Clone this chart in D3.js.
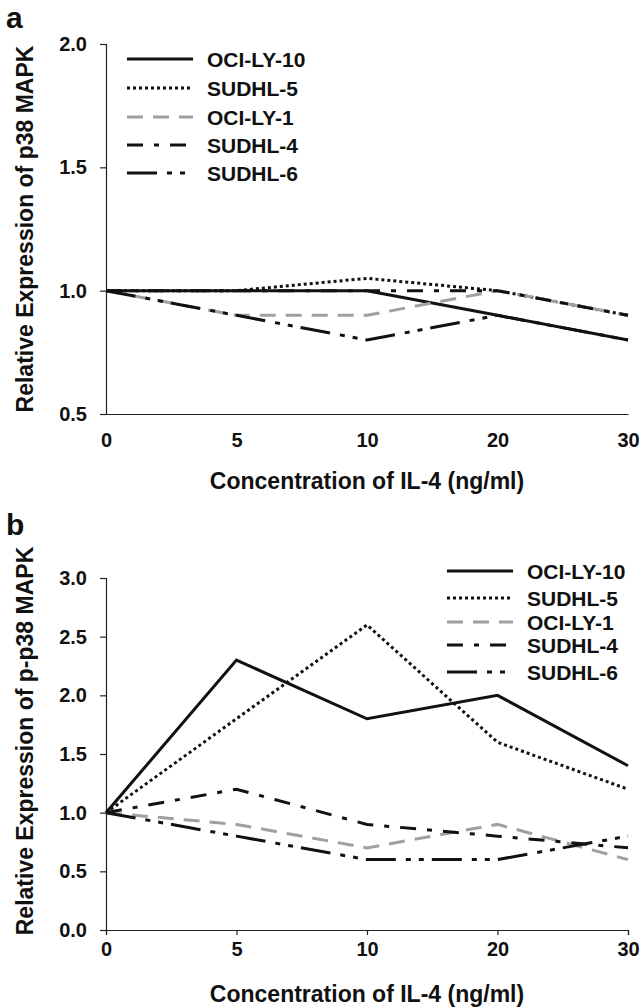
<!DOCTYPE html>
<html><head><meta charset="utf-8">
<script src="https://cdn.jsdelivr.net/npm/d3@7"></script>
<style>body{margin:0;background:#fff}svg{display:block}text{font-family:"Liberation Sans",Arial,sans-serif;font-weight:bold;fill:#111}</style>
</head><body>
<svg id="c" width="644" height="1008"></svg>
<script>
const concentrations = ["0","5","10","20","30"];
const seriesNames = ["OCI-LY-10","SUDHL-5","OCI-LY-1","SUDHL-4","SUDHL-6"];
const p38Values = [
  [1.0,1.0,1.0,0.9,0.8],
  [1.0,1.0,1.05,1.0,0.9],
  [1.0,0.9,0.9,1.0,0.9],
  [1.0,1.0,1.0,1.0,0.9],
  [1.0,0.9,0.8,0.9,0.8]
];
const pp38Values = [
  [1.0,2.3,1.8,2.0,1.4],
  [1.0,1.8,2.6,1.6,1.2],
  [1.0,0.9,0.7,0.9,0.6],
  [1.0,1.2,0.9,0.8,0.7],
  [1.0,0.8,0.6,0.6,0.8]
];
const yTicksA = [0.5,1.0,1.5,2.0];
const yTicksB = [0.0,0.5,1.0,1.5,2.0,2.5,3.0];

const styles = [
  {color:"#111", dash:null, w:3},
  {color:"#111", dash:"3,3", w:3},
  {color:"#a0a0a0", dash:"16,10", w:3},
  {color:"#111", dash:"16,11,5,11", w:3},
  {color:"#111", dash:"30,10,5,8,5,8", w:3}
];

const svg = d3.select("#c");

function panel(opts){
  const g = svg.append("g");
  const x = d3.scalePoint().domain(concentrations).range([106,628]);
  const y = d3.scaleLinear().domain(opts.yDomain).range([opts.yBottom, opts.yTop]);
  const ya = g.append("g").attr("transform","translate(106,0)")
    .call(d3.axisLeft(y).tickValues(opts.yTicks).tickFormat(d3.format(".1f")).tickSize(6).tickPadding(13));
  const xa = g.append("g").attr("transform",`translate(0,${opts.yBottom})`)
    .call(d3.axisBottom(x).tickSize(opts.xTickSize).tickPadding(opts.xPad));
  [ya,xa].forEach(a=>{
    a.select(".domain").attr("stroke","#222").attr("stroke-width",1.2);
    a.selectAll(".tick line").attr("stroke","#222").attr("stroke-width",1.2);
    a.selectAll("text").attr("font-size",20).attr("font-family","Liberation Sans, Arial, sans-serif").attr("font-weight","bold").attr("fill","#111");
  });
  const line = d3.line().x((d,i)=>x(concentrations[i])).y(d=>y(d));
  opts.values.forEach((vals,k)=>{
    const s = styles[k];
    g.append("path").attr("d",line(vals)).attr("fill","none")
      .attr("stroke",s.color).attr("stroke-width",s.w)
      .attr("stroke-dasharray",s.dash).attr("stroke-linejoin","miter");
  });
  seriesNames.forEach((n,k)=>{
    const s = styles[k];
    const ly = opts.legY[k];
    g.append("line").attr("x1",opts.legX).attr("x2",opts.legX+66).attr("y1",ly).attr("y2",ly)
      .attr("stroke",s.color).attr("stroke-width",s.w).attr("stroke-dasharray",s.dash);
    g.append("text").attr("x",opts.legX+80).attr("y",ly).attr("dy","0.36em")
      .attr("font-size",21).text(n);
  });
  g.append("text").attr("transform",`translate(33,${opts.yTitleC}) rotate(-90)`)
    .attr("text-anchor","middle").attr("font-size",23).text(opts.yTitle);
  g.append("text").attr("x",367).attr("y",opts.xTitleY).attr("text-anchor","middle")
    .attr("font-size",23).text("Concentration of IL-4 (ng/ml)");
  g.append("text").attr("x",6).attr("y",opts.letterY).attr("font-size",30).text(opts.letter);
}

panel({yDomain:[0.5,2.0], yBottom:414, yTop:44, yTicks:yTicksA, values:p38Values,
  legX:127, legY:[59,88,117,145,173], yTitle:"Relative Expression of p38 MAPK", yTitleC:229,
  xTitleY:489, letter:"a", letterY:28, xTickSize:0, xPad:19});
panel({yDomain:[0,3.0], yBottom:930, yTop:578, yTicks:yTicksB, values:pp38Values,
  legX:447, legY:[571,598,622,645,672], yTitle:"Relative Expression of p-p38 MAPK", yTitleC:741,
  xTitleY:1002, letter:"b", letterY:535, xTickSize:5, xPad:7});
</script>
</body></html>
